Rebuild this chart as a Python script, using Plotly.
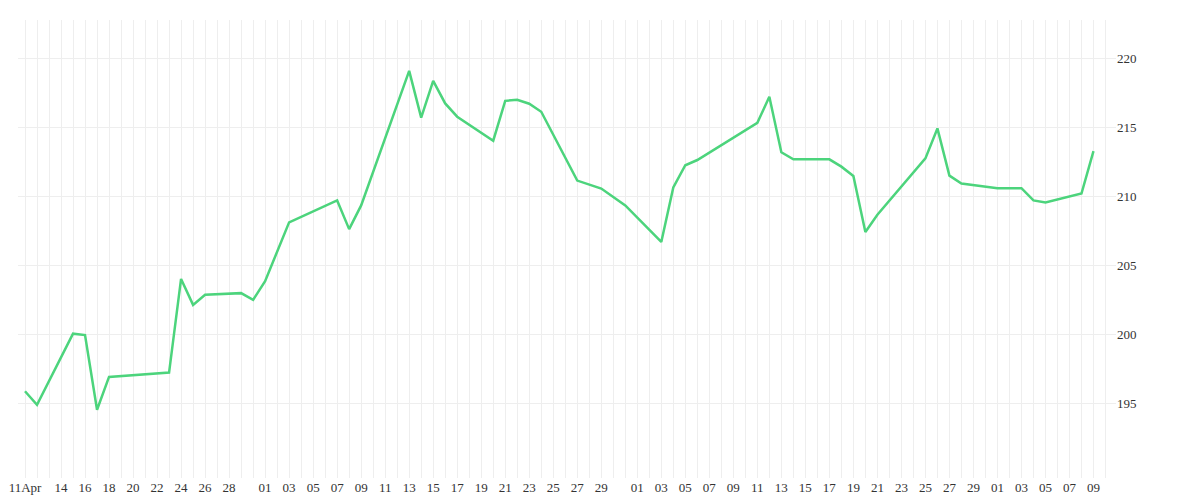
import pandas as pd
import plotly.graph_objects as go

# closing prices
dates = ['2024-04-11', '2024-04-12', '2024-04-15', '2024-04-16', '2024-04-17', '2024-04-18',
         '2024-04-23', '2024-04-24', '2024-04-25', '2024-04-26', '2024-04-29', '2024-04-30',
         '2024-05-01', '2024-05-03', '2024-05-07', '2024-05-08', '2024-05-09', '2024-05-13',
         '2024-05-14', '2024-05-15', '2024-05-16', '2024-05-17', '2024-05-20', '2024-05-21',
         '2024-05-22', '2024-05-23', '2024-05-24', '2024-05-27', '2024-05-29', '2024-05-31',
         '2024-06-03', '2024-06-04', '2024-06-05', '2024-06-06', '2024-06-11', '2024-06-12',
         '2024-06-13', '2024-06-14', '2024-06-17', '2024-06-18', '2024-06-19', '2024-06-20',
         '2024-06-21', '2024-06-25', '2024-06-26', '2024-06-27', '2024-06-28', '2024-07-01',
         '2024-07-03', '2024-07-04', '2024-07-05', '2024-07-08', '2024-07-09']
prices = [195.89, 194.91, 200.06, 199.96, 194.55, 196.93,
          197.24, 204.03, 202.15, 202.88, 203.00, 202.51,
          203.87, 208.13, 209.72, 207.64, 209.36, 219.11,
          215.72, 218.39, 216.75, 215.79, 214.05, 216.94,
          217.02, 216.73, 216.15, 211.16, 210.58, 209.36,
          206.71, 210.66, 212.27, 212.65, 215.35, 217.23,
          213.21, 212.70, 212.70, 212.17, 211.50, 207.43,
          208.68, 212.77, 214.94, 211.52, 210.95, 210.61,
          210.61, 209.72, 209.57, 210.22, 213.30]

# daily grid, labels every other day
days = pd.date_range('2024-04-11', '2024-07-10', freq='D')
labelled = ['2024-04-14', '2024-04-16', '2024-04-18', '2024-04-20', '2024-04-22', '2024-04-24',
            '2024-04-26', '2024-04-28']
labelled += [f'2024-05-{d:02d}' for d in range(1, 30, 2)]
labelled += [f'2024-06-{d:02d}' for d in range(1, 30, 2)]
labelled += [f'2024-07-{d:02d}' for d in range(1, 10, 2)]
ticktext = []
for d in days:
    s = d.strftime('%Y-%m-%d')
    if s == '2024-04-11':
        ticktext.append('11Apr')
    elif s in labelled:
        ticktext.append(d.strftime('%d'))
    else:
        ticktext.append('')

fig = go.Figure()
fig.add_trace(go.Scatter(x=pd.to_datetime(dates), y=prices, mode='lines',
                         line=dict(color='#4cd47c', width=2.5), hoverinfo='x+y'))

start = pd.Timestamp('2024-04-11') - pd.Timedelta(hours=14)
end = pd.Timestamp('2024-04-11') + pd.Timedelta(hours=int(90.9 * 24))
fig.update_layout(
    width=1200, height=500,
    margin=dict(l=10, r=92, t=12, b=30),
    plot_bgcolor='white', paper_bgcolor='white',
    showlegend=False,
    font=dict(family='Liberation Serif', size=13, color='#333'),
    xaxis=dict(range=[start, end], tickvals=days, ticktext=ticktext, tickangle=0,
               showgrid=True, gridcolor='#eeeeee', gridwidth=1, zeroline=False,
               showline=False, ticks='', automargin=False, ticklabelstandoff=0),
    yaxis=dict(side='right', range=[189.6, 222.8], tickvals=[195, 200, 205, 210, 215, 220],
               showgrid=True, gridcolor='#eeeeee', zeroline=False, ticks='', automargin=False),
)

fig.write_html("out.html")
